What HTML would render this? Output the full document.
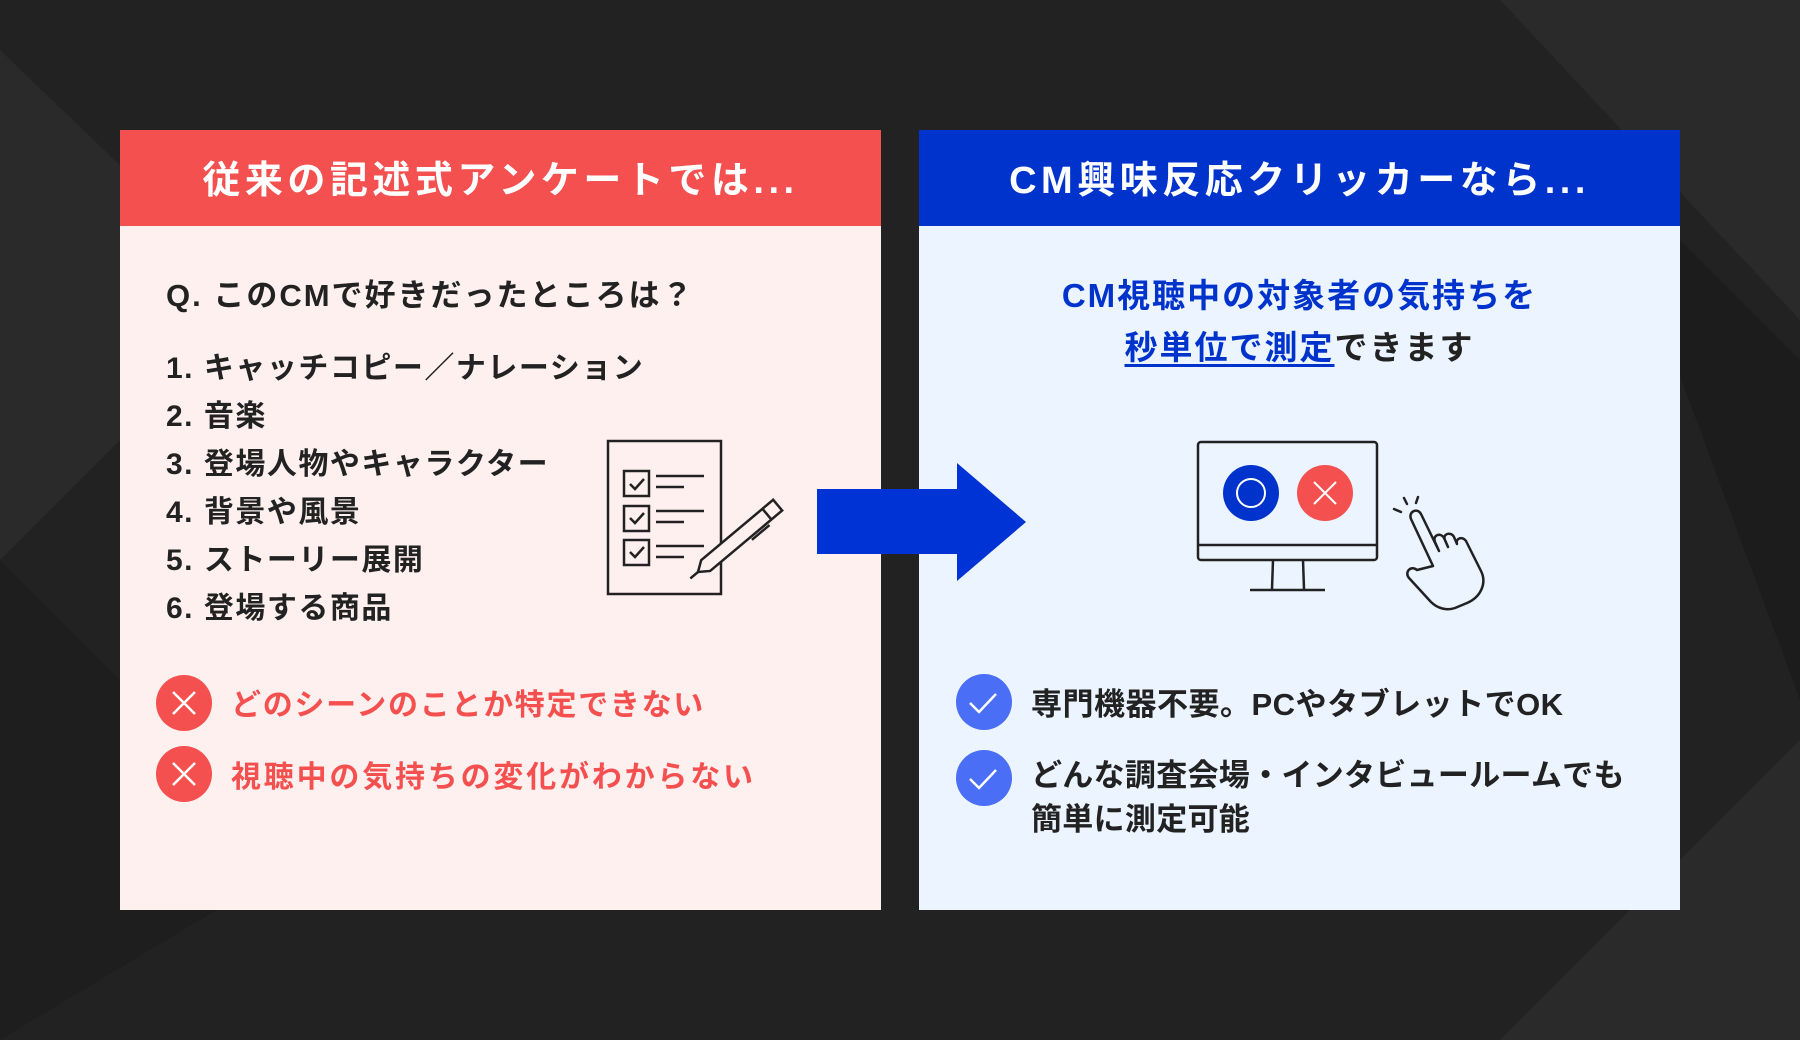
<!DOCTYPE html>
<html><head><meta charset="utf-8">
<style>
*{margin:0;padding:0;box-sizing:border-box}
body{width:1800px;height:1040px;background:#222;position:relative;overflow:hidden;font-family:"Liberation Sans","Noto Sans CJK JP",sans-serif;font-weight:700}
.bg{position:absolute;left:0;top:0}
.panel{position:absolute;top:130px;width:761px;height:780px}
.hd{height:96px;color:#fff;font-size:38px;letter-spacing:4.5px;text-align:center;line-height:102px}
.t{position:absolute;white-space:nowrap;color:#222}
</style></head><body>
<svg class="bg" width="1800" height="1040">
<polygon points="0,50 260,300 0,560" fill="#2a2a2a"/>
<polygon points="0,560 300,860 0,1040" fill="#1e1e1e"/>
<polygon points="1500,0 1800,0 1800,320" fill="#2a2a2a"/>
<polygon points="1600,160 1800,360 1800,700" fill="#1c1c1c"/>
<polygon points="1500,1040 1800,740 1800,1040" fill="#2a2a2a"/>
</svg>

<div class="panel" style="left:120px;background:#fff0f0">
 <div class="hd" style="background:#f55050">従来の記述式アンケートでは...</div>
</div>
<div class="panel" style="left:919px;background:#ebf4ff">
 <div class="hd" style="background:#0033cc">CM興味反応クリッカーなら...</div>
</div>

<div class="t" style="left:166px;top:270px;font-size:31px;letter-spacing:2px">Q. このCMで好きだったところは？</div>
<div class="t" style="left:166px;top:345px;font-size:30px;line-height:48px;letter-spacing:1.5px">1. キャッチコピー／ナレーション<br>2. 音楽<br>3. 登場人物やキャラクター<br>4. 背景や風景<br>5. ストーリー展開<br>6. 登場する商品</div>

<svg class="bg" width="1800" height="1040">
 <g fill="none" stroke="#222" stroke-width="2.5">
  <rect x="608" y="441" width="113" height="153" fill="#fff0f0"/>
  <rect x="624" y="471" width="25" height="25"/>
  <rect x="624" y="506" width="25" height="25"/>
  <rect x="624" y="540" width="25" height="25"/>
  <path d="M630 484l5 5 9-10M630 518l5 5 9-10M630 552l5 5 9-10"/>
  <path d="M656 476h48M656 487h28M656 511h48M656 522h28M656 546h48M656 557h28"/>
  <g transform="translate(698,572) rotate(-40)">
   <path d="M0 0 L10 -7 L104 -7 L104 7 L10 7 Z" fill="#fff0f0"/>
   <path d="M90 -7V7"/>
   <path d="M85 10H62"/>
   <path d="M0 0H-10"/>
  </g>
 </g>
 <polygon points="817,489 957,489 957,463 1026,522 957,581 957,554 817,554" fill="#0033d6"/>
 <g stroke="#fff" stroke-width="2.5">
  <circle cx="184" cy="703" r="28" fill="#f55050" stroke="none"/>
  <path d="M173 692l22 22M195 692l-22 22"/>
  <circle cx="184" cy="774" r="28" fill="#f55050" stroke="none"/>
  <path d="M173 763l22 22M195 763l-22 22"/>
 </g>
 <g fill="none" stroke="#222" stroke-width="2.5">
  <rect x="1198" y="442" width="179" height="118" rx="3"/>
  <path d="M1198 545h179M1273 560l-1 29M1303 560l1 29M1250 590h75"/>
 </g>
 <circle cx="1251" cy="493" r="28" fill="#0033cc"/>
 <circle cx="1251" cy="493" r="14" fill="none" stroke="#fff" stroke-width="2"/>
 <circle cx="1325" cy="493" r="28" fill="#f55050"/>
 <path d="M1314 482l22 22M1336 482l-22 22" stroke="#fff" stroke-width="2"/>
 <g fill="none" stroke="#222" stroke-width="2.5" stroke-linecap="round" stroke-linejoin="round">
  <path d="M1394 509l7 3M1404 498l3 6M1418 497l-2 6"/>
  <path d="M1433 566l-22-47c-3-7 6-12 10-5l18 37 -4-9c-3-7 6-10 9-4l4 9-3-7c-3-6 6-9 9-3l3 7c-2-6 6-8 9-3l15 30c6 12 0 26-14 32l-12 5c-9 3-18 0-24-6l-22-24c-5-6 2-13 8-8z"/>
 </g>
 <circle cx="984" cy="702" r="28" fill="#4a6ef5"/>
 <circle cx="984" cy="778" r="28" fill="#4a6ef5"/>
 <path d="M970 703l9 9 17-18M970 779l9 9 17-18" fill="none" stroke="#fff" stroke-width="2.5"/>
</svg>

<div class="t" style="left:231px;top:680px;font-size:30px;color:#f55050;letter-spacing:1.7px">どのシーンのことか特定できない</div>
<div class="t" style="left:231px;top:752px;font-size:30px;color:#f55050;letter-spacing:2.8px">視聴中の気持ちの変化がわからない</div>

<div class="t" style="left:919px;width:761px;text-align:center;top:270px;font-size:33px;line-height:52px;color:#0033cc;letter-spacing:2px">CM視聴中の対象者の気持ちを<br><span style="text-decoration:underline;text-underline-offset:5px">秒単位で測定</span><span style="color:#222">できます</span></div>

<div class="t" style="left:1031px;top:679px;font-size:31px;letter-spacing:0.5px">専門機器不要。PCやタブレットでOK</div>
<div class="t" style="left:1031px;top:754px;font-size:31px;line-height:44px;letter-spacing:0.3px">どんな調査会場・インタビュールームでも<br>簡単に測定可能</div>
</body></html>
